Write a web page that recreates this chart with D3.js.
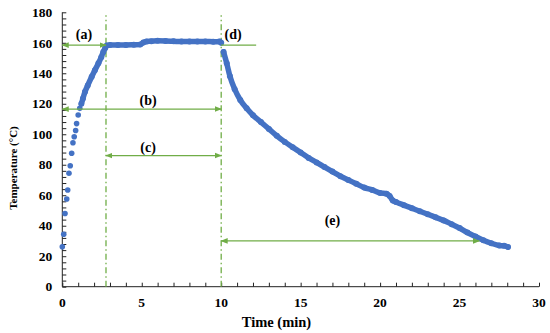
<!DOCTYPE html>
<html lang="en">
<head>
<meta charset="UTF-8">
<title>Temperature profile</title>
<script src="https://cdn.jsdelivr.net/npm/d3@7"></script>
<style>
    body { margin: 0; background: #fff; }
    svg text { font-family: "Times New Roman", "Liberation Serif", Tinos, "Noto Serif", "DejaVu Serif", serif; font-weight: bold; fill: #000; }
    .axis path, .axis line { stroke: #222; stroke-width: 1; }
</style>
</head>
<body>
<script>
    // early heating readings (sparse dots)
    var rampTime = [0, 0.09, 0.17, 0.28, 0.34, 0.42, 0.5, 0.59, 0.67, 0.75, 0.84, 0.9, 1.0, 1.1];
    var rampTemp = [26.2, 34.4, 48, 57.5, 63.4, 74.4, 79.3, 87.5, 94.4, 98.4, 102.5, 107, 112.6, 117];

    // rest of the record (dense dots)
    var curveTime = [1.2, 1.3, 1.43, 1.6, 1.85, 2.05, 2.27, 2.45, 2.58, 2.7, 2.8, 3.0, 3.5, 4.0, 4.5, 4.9,
        5.1, 5.3, 5.6, 6.0, 6.5, 7.0, 7.5, 8.0, 8.5, 9.0, 9.5, 9.9, 10.0,
        10.15, 10.35, 10.55, 10.85, 11.2, 11.6, 12.0, 12.5, 13.0, 13.5, 14.0, 14.5, 15.0, 15.5, 16.0,
        16.5, 17.0, 17.5, 18.0, 18.5, 19.0, 19.5, 20.0, 20.4, 20.6, 20.8, 21.0, 21.5, 22.0, 22.5,
        23.0, 23.5, 24.0, 24.5, 25.0, 25.5, 26.0, 26.5, 27.0, 27.5, 27.8, 28.05];
    var curveTemp = [120, 123.5, 127.9, 132, 137.7, 142, 146.5, 150.5, 154, 156.5, 158.3, 158.6, 158.6, 158.6, 158.7, 158.8,
        160.2, 160.8, 161, 161.3, 161.2, 161, 160.8, 160.9, 160.8, 160.9, 160.7, 160.8, 160,
        154, 146.5, 138, 129.5, 122.5, 117, 112.5, 108, 103.5, 99, 95, 91.5, 88, 84.5, 81.5,
        78.5, 75.5, 72.5, 70, 67.5, 65, 63.5, 61.5, 61, 59.5, 56.5, 55.5, 53.5, 51.5, 49.5,
        47.5, 45.5, 43.5, 41, 38.5, 35.5, 33, 30.5, 28.5, 27, 26.8, 26];

    var xTicks = [0, 5, 10, 15, 20, 25, 30];
    var yTicks = [0, 20, 40, 60, 80, 100, 120, 140, 160, 180];

    // stage markers
    var stageLines = [2.75, 10];
    var arrowNames = ["a", "b", "c", "d", "e"];
    var arrowFrom = [0, 0, 2.75, 10, 10];
    var arrowTo = [2.75, 10, 10, 12.2, 26.25];
    var arrowTemp = [158.5, 116.5, 86, 158.5, 30];
    var arrowEnds = ["both", "both", "both", "none", "both"];
    var labelTime = [1.36, 5.4, 5.4, 10.75, 17];
    var labelTemp = [165.5, 122.5, 91.5, 165.5, 43.5];

    var W = 550, H = 333;
    var margin = {top: 12.3, right: 11, bottom: 46.3, left: 62.3},
        width = W - margin.left - margin.right,
        height = H - margin.top - margin.bottom;

    var blue = "#4472C4", green = "#70AD47";

    var x = d3.scaleLinear().domain([0, 30]).range([0, width]);
    var y = d3.scaleLinear().domain([0, 180]).range([height, 0]);

    var svg = d3.select("body").append("svg")
        .attr("width", W)
        .attr("height", H);

    var defs = svg.append("defs");
    defs.append("marker")
        .attr("id", "head")
        .attr("viewBox", "0 0 10 10")
        .attr("refX", 9).attr("refY", 5)
        .attr("markerWidth", 6).attr("markerHeight", 6)
        .attr("orient", "auto-start-reverse")
        .append("path")
        .attr("d", "M0,1 L10,5 L0,9 Z")
        .attr("fill", green);

    var g = svg.append("g")
        .attr("transform", "translate(" + margin.left + "," + margin.top + ")");

    // minor ticks (inside)
    var xAxis = d3.axisTop(x).tickValues(d3.range(0, 31, 1)).tickSize(4).tickFormat("");
    var yAxis = d3.axisRight(y).tickValues(d3.range(0, 181, 4)).tickSize(4).tickFormat("");

    g.append("g").attr("class", "axis")
        .attr("transform", "translate(0," + height + ")")
        .call(xAxis)
        .call(function (s) { s.select(".domain").attr("d", "M0,0H" + width); });

    g.append("g").attr("class", "axis")
        .call(yAxis)
        .call(function (s) { s.select(".domain").attr("d", "M0," + height + "V0"); });

    // tick labels
    g.selectAll(".xl").data(xTicks).enter().append("text")
        .attr("x", function (d) { return x(d); })
        .attr("y", height + 20)
        .attr("text-anchor", "middle")
        .attr("font-size", 13.5)
        .text(function (d) { return d; });

    g.selectAll(".yl").data(yTicks).enter().append("text")
        .attr("x", -10)
        .attr("y", function (d) { return y(d); })
        .attr("dy", "0.35em")
        .attr("text-anchor", "end")
        .attr("font-size", 13.5)
        .text(function (d) { return d; });

    // axis titles
    svg.append("text")
        .attr("x", 276.5)
        .attr("y", 327)
        .attr("text-anchor", "middle")
        .attr("font-size", 14.5)
        .text("Time (min)");

    svg.append("text")
        .attr("transform", "translate(17,168) rotate(-90)")
        .attr("text-anchor", "middle")
        .attr("font-size", 11)
        .text("Temperature  (°C)");

    // stage lines
    g.selectAll(".stage").data(stageLines).enter().append("line")
        .attr("x1", function (d) { return x(d); })
        .attr("x2", function (d) { return x(d); })
        .attr("y1", y(0))
        .attr("y2", y(178))
        .attr("stroke", green)
        .attr("stroke-width", 1.3)
        .attr("stroke-dasharray", "6,3,1.5,3");

    // data band + dots
    var pts = curveTime.map(function (t, i) { return [t, curveTemp[i]]; });
    var line = d3.line()
        .x(function (d) { return x(d[0]); })
        .y(function (d) { return y(d[1]); })
        .curve(d3.curveMonotoneX);

    var cool = pts.filter(function (d) { return d[0] > 10; });
    var heat = pts.filter(function (d) { return d[0] <= 10; });

    [heat, cool].forEach(function (seg) {
        g.append("path")
            .attr("d", line(seg))
            .attr("fill", "none")
            .attr("stroke", blue)
            .attr("stroke-width", 5.5)
            .attr("stroke-linecap", "round");
    });

    g.selectAll(".dot").data(pts).enter().append("circle")
        .attr("cx", function (d) { return x(d[0]); })
        .attr("cy", function (d) { return y(d[1]); })
        .attr("r", 3)
        .attr("fill", blue);

    g.selectAll(".ramp").data(rampTime).enter().append("circle")
        .attr("cx", function (d) { return x(d); })
        .attr("cy", function (d, i) { return y(rampTemp[i]); })
        .attr("r", 2.8)
        .attr("fill", blue);

    // arrows
    arrowNames.forEach(function (n, i) {
        var a = g.append("line")
            .attr("x1", x(arrowFrom[i]))
            .attr("x2", x(arrowTo[i]))
            .attr("y1", y(arrowTemp[i]))
            .attr("y2", y(arrowTemp[i]))
            .attr("stroke", green)
            .attr("stroke-width", 1.2);
        if (arrowEnds[i] === "both") {
            a.attr("marker-start", "url(#head)").attr("marker-end", "url(#head)");
        }
        g.append("text")
            .attr("x", x(labelTime[i]))
            .attr("y", y(labelTemp[i]))
            .attr("dy", "0.35em")
            .attr("text-anchor", "middle")
            .attr("font-size", 14)
            .text("(" + n + ")");
    });
</script>
</body>
</html>
